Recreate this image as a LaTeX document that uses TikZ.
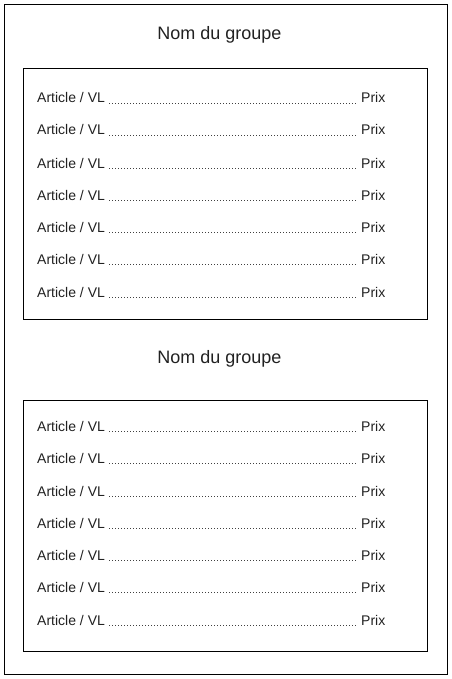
\documentclass[tikz,border=0pt]{standalone}
\usepackage{fontspec}
\setmainfont{Liberation Sans}
\usepackage{tikz}

\tikzset{
	article/.style={anchor=base west, inner xsep=4pt, inner ysep=0pt, text=black!87, font=\fontsize{14}{16}\selectfont},
	prix/.style={anchor=base west, inner xsep=5pt, inner ysep=0pt, text=black!87, font=\fontsize{14}{16}\selectfont},
	titre/.style={text=black!87, font=\fontsize{18}{20}\selectfont},
	pointille/.style={draw=black!75, line width=0.8pt, dash pattern=on 0.8pt off 2.2pt},
	cadre/.style={draw=black, line width=1pt}
}

\begin{document}
\begin{tikzpicture}[x=1pt,y=-1pt]
	\useasboundingbox (0,0) rectangle (451,679);
	\draw[cadre] (4.5,4.5) rectangle (447.5,674.5);
	
	% premier groupe
	\node[titre] (titre1) at (219.5,34.5) {Nom du groupe};
	\draw[cadre] (23.5,68.5) rectangle (427.5,319.5);
	
	\node[article] (art1) at (33,103) {Article / VL};
	\node[article] (art2) at (33,135) {Article / VL};
	\node[article] (art3) at (33,168) {Article / VL};
	\node[article] (art4) at (33,200) {Article / VL};
	\node[article] (art5) at (33,232) {Article / VL};
	\node[article] (art6) at (33,264) {Article / VL};
	\node[article] (art7) at (33,297) {Article / VL};
	
	\node[prix] (prix1) at (356,103) {Prix};
	\node[prix] (prix2) at (356,135) {Prix};
	\node[prix] (prix3) at (356,168) {Prix};
	\node[prix] (prix4) at (356,200) {Prix};
	\node[prix] (prix5) at (356,232) {Prix};
	\node[prix] (prix6) at (356,264) {Prix};
	\node[prix] (prix7) at (356,297) {Prix};
	
	\path [pointille] (art1.base east) edge (prix1.base west);
	\path [pointille] (art2.base east) edge (prix2.base west);
	\path [pointille] (art3.base east) edge (prix3.base west);
	\path [pointille] (art4.base east) edge (prix4.base west);
	\path [pointille] (art5.base east) edge (prix5.base west);
	\path [pointille] (art6.base east) edge (prix6.base west);
	\path [pointille] (art7.base east) edge (prix7.base west);
	
	% second groupe
	\node[titre] (titre2) at (219.5,358.5) {Nom du groupe};
	\draw[cadre] (23.5,400.5) rectangle (427.5,651.5);
	
	\node[article] (art8) at (33,431) {Article / VL};
	\node[article] (art9) at (33,463) {Article / VL};
	\node[article] (art10) at (33,496) {Article / VL};
	\node[article] (art11) at (33,528) {Article / VL};
	\node[article] (art12) at (33,560) {Article / VL};
	\node[article] (art13) at (33,592) {Article / VL};
	\node[article] (art14) at (33,625) {Article / VL};
	
	\node[prix] (prix8) at (356,431) {Prix};
	\node[prix] (prix9) at (356,463) {Prix};
	\node[prix] (prix10) at (356,496) {Prix};
	\node[prix] (prix11) at (356,528) {Prix};
	\node[prix] (prix12) at (356,560) {Prix};
	\node[prix] (prix13) at (356,592) {Prix};
	\node[prix] (prix14) at (356,625) {Prix};
	
	\path [pointille] (art8.base east) edge (prix8.base west);
	\path [pointille] (art9.base east) edge (prix9.base west);
	\path [pointille] (art10.base east) edge (prix10.base west);
	\path [pointille] (art11.base east) edge (prix11.base west);
	\path [pointille] (art12.base east) edge (prix12.base west);
	\path [pointille] (art13.base east) edge (prix13.base west);
	\path [pointille] (art14.base east) edge (prix14.base west);
\end{tikzpicture}
\end{document}
